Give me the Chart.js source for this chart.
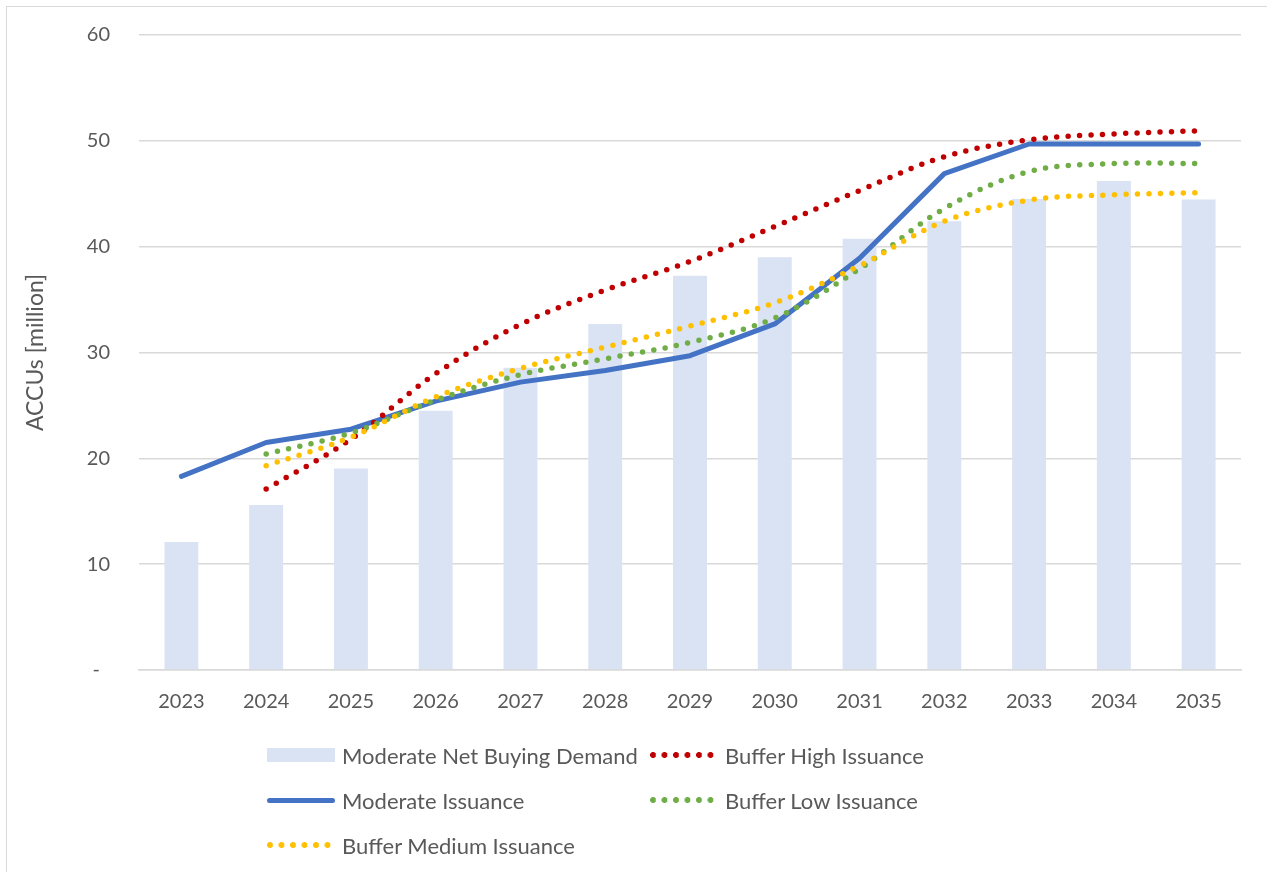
<!DOCTYPE html>
<html>
<head>
<meta charset="utf-8">
<script src="https://cdn.jsdelivr.net/npm/chart.js@4.4.1/dist/chart.umd.min.js"></script>
<style>
  body { margin: 0; background: #fff; font-family: Lato, "Open Sans", sans-serif; }
  #frame { position: absolute; left: 6px; top: 6px; width: 1300px; height: 900px; border: 1px solid #d9d9d9; }
  #wrap { position: absolute; left: 0; top: 0; width: 1267px; height: 872px; }
  .leg { position: absolute; height: 30px; display: flex; align-items: center; color: #595959; font-size: 22px; white-space: nowrap; }
  .sw { width: 68px; margin-right: 7px; flex: none; }
  .sw.bar { height: 14px; background: #dae3f3; }
  .sw.line { height: 5px; background: #4472c4; border-radius: 3px; }
  .sw.dots { height: 6px; background-size: 11.5px 6px; background-repeat: repeat-x; }
</style>
</head>
<body>
<div id="frame"></div>
<div id="wrap"><canvas id="grafico"></canvas></div>
<div id="legenda"></div>
<script>
const anos = ["2023","2024","2025","2026","2027","2028","2029","2030","2031","2032","2033","2034","2035"];
const demanda = [12.1, 15.6, 19.05, 24.5, 28.55, 32.7, 37.25, 39.0, 40.75, 42.4, 44.5, 46.2, 44.45];
const moderada = [18.3, 21.5, 22.75, 25.4, 27.2, 28.3, 29.7, 32.7, 38.9, 46.9, 49.7, 49.7, 49.7];
const bufferAlto = [null, 17.1, 21.8, 28.0, 32.65, 35.9, 38.6, 41.9, 45.3, 48.5, 50.1, 50.65, 50.95];
const bufferBaixo = [null, 20.4, 22.4, 25.5, 27.9, 29.4, 30.95, 33.25, 37.9, 43.6, 47.1, 47.85, 47.85];
const bufferMedio = [null, 19.3, 22.0, 25.8, 28.5, 30.5, 32.5, 34.7, 38.2, 42.4, 44.4, 44.9, 45.1];
const ticksY = [0, 10, 20, 30, 40, 50, 60];

const cinza = "#595959";
const fonte = { family: "Lato, 'Open Sans', sans-serif", size: 20 };

function pontilhado(label, data, cor, ordem) {
  return {
    type: "line",
    label: label,
    data: data,
    borderColor: cor,
    backgroundColor: cor,
    borderWidth: 5.5,
    borderDash: [0, 11.5],
    borderCapStyle: "round",
    tension: 0.35,
    pointRadius: 0,
    fill: false,
    order: ordem
  };
}

const ctx = document.getElementById("grafico").getContext("2d");
new Chart(ctx, {
  type: "bar",
  data: {
    labels: anos,
    datasets: [
      {
        type: "bar",
        label: "Moderate Net Buying Demand",
        data: demanda,
        backgroundColor: "#dae3f3",
        barPercentage: 0.4,
        categoryPercentage: 1.0,
        order: 10
      },
      {
        type: "line",
        label: "Moderate Issuance",
        data: moderada,
        borderColor: "#4472c4",
        backgroundColor: "#4472c4",
        borderWidth: 5,
        borderCapStyle: "round",
        borderJoinStyle: "round",
        tension: 0,
        pointRadius: 0,
        fill: false,
        order: 4
      },
      pontilhado("Buffer High Issuance", bufferAlto, "#c00000", 3),
      pontilhado("Buffer Low Issuance", bufferBaixo, "#70ad47", 2),
      pontilhado("Buffer Medium Issuance", bufferMedio, "#ffc000", 1)
    ]
  },
  options: {
    responsive: true,
    maintainAspectRatio: false,
    animation: false,
    layout: { padding: { left: 22, top: 35, right: 26, bottom: 0 } },
    plugins: {
      legend: { display: false },
      tooltip: { enabled: false }
    },
    scales: {
      x: {
        grid: { display: false, drawTicks: false },
        border: { color: "#d9d9d9", width: 1.5 },
        ticks: { color: cinza, font: fonte, padding: 20 },
        afterFit: s => { s.height = 202; }
      },
      y: {
        min: 0,
        max: 60,
        afterBuildTicks: s => { s.ticks = ticksY.map(v => ({ value: v })); },
        grid: { color: "#d9d9d9", lineWidth: 1.5, drawTicks: true, tickLength: 29, tickColor: "rgba(0,0,0,0)" },
        border: { display: false },
        ticks: {
          color: cinza,
          font: fonte,
          padding: 0,
          callback: v => v === 0 ? "-\u2002" : v
        },
        title: {
          display: true,
          text: "ACCUs [million]",
          color: cinza,
          font: { family: fonte.family, size: 23 },
          padding: { top: 0, bottom: 0 }
        },
        afterFit: s => { s.width = 117; }
      }
    }
  }
});

// legenda em grade como no original
const itensLegenda = [
  { texto: "Moderate Net Buying Demand", tipo: "bar", x: 267, y: 755 },
  { texto: "Buffer High Issuance", tipo: "dots", cor: "#c00000", x: 650, y: 755 },
  { texto: "Moderate Issuance", tipo: "line", x: 267, y: 800 },
  { texto: "Buffer Low Issuance", tipo: "dots", cor: "#70ad47", x: 650, y: 800 },
  { texto: "Buffer Medium Issuance", tipo: "dots", cor: "#ffc000", x: 267, y: 845 }
];
const leg = document.getElementById("legenda");
itensLegenda.forEach(it => {
  const d = document.createElement("div");
  d.className = "leg";
  d.style.left = it.x + "px";
  d.style.top = (it.y - 15) + "px";
  const sw = document.createElement("div");
  sw.className = "sw " + it.tipo;
  if (it.tipo === "dots") {
    sw.style.backgroundImage = `radial-gradient(circle at 3px 3px, ${it.cor} 2.7px, transparent 3.2px)`;
  }
  d.appendChild(sw);
  const t = document.createElement("span");
  t.textContent = it.texto;
  d.appendChild(t);
  leg.appendChild(d);
});
</script>
</body>
</html>
